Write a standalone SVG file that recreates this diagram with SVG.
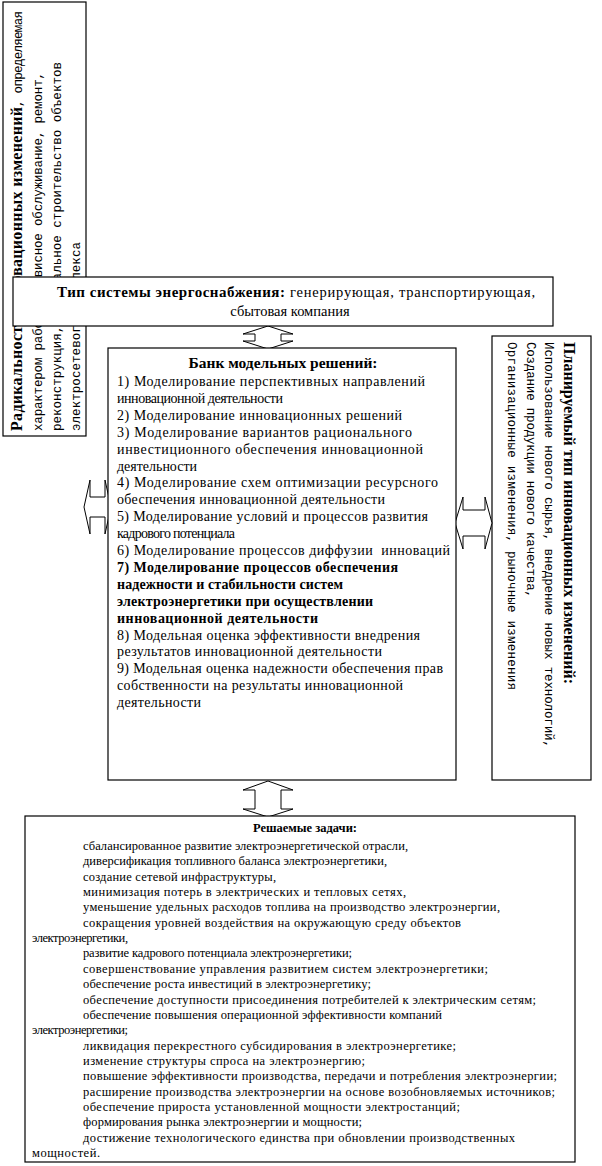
<svg xmlns="http://www.w3.org/2000/svg" width="602" height="1166" viewBox="0 0 602 1166">
<style>
.box{fill:#fff;stroke:#000;stroke-width:1.2}
.arr{fill:#fff;stroke:#000;stroke-width:1}
.b{font-family:"Liberation Serif","Times New Roman",serif;font-weight:bold;fill:#000}
.r{font-family:"Liberation Serif","Times New Roman",serif;fill:#000}
.m{font-family:"Liberation Mono","Courier New",monospace;fill:#000}
.c{font-size:14px}
.s{font-size:12.5px}
</style>
<rect x="0" y="0" width="602" height="1166" fill="#fff"/>
<g id="radical">
<rect class="box" x="3" y="2" width="83" height="434"/>
<text class="b" font-size="16" transform="translate(22,431) rotate(-90)" textLength="324">Радикальность инновационных изменений</text>
<text class="m" font-size="12.5" transform="translate(22,107) rotate(-90)" textLength="96">, определяемая</text>
<text class="m" font-size="12.5" transform="translate(42,431) rotate(-90)" textLength="359">характером работ: сервисное обслуживание, ремонт,</text>
<text class="m" font-size="12.5" transform="translate(61,431) rotate(-90)" textLength="369">реконструкция, капитальное строительство объектов</text>
<text class="m" font-size="12.5" transform="translate(80,431) rotate(-90)" textLength="189">электросетевого комплекса</text>
</g>
<g id="planned">
<rect class="box" x="492" y="336" width="99" height="444"/>
<text class="b" font-size="16" transform="translate(564,342) rotate(90)" textLength="342">Планируемый тип инновационных изменений:</text>
<text class="m" font-size="12.5" transform="translate(545,342) rotate(90)" textLength="406">Использование нового сырья, внедрение новых технологий,</text>
<text class="m" font-size="12.5" transform="translate(527,342) rotate(90)" textLength="256">Создание продукции нового качества,</text>
<text class="m" font-size="12.5" transform="translate(508,342) rotate(90)" textLength="348">Организационные изменения, рыночные изменения</text>
</g>
<g id="connectors">
<polygon class="arr" points="268,326 293,334 281,334 281,341 293,341 268,349 243,341 255,341 255,334 243,334"/>
<polygon class="arr" points="268,781 293,790 281,790 281,809 293,809 268,817 243,809 255,809 255,790 243,790"/>
<polygon class="arr" points="84,507 90,480 90,497 105,497 105,480 111,507 105,534 105,517 90,517 90,534"/>
<polygon class="arr" points="455,523 463,497 463,510 485,510 485,497 492,523 485,549 485,536 463,536 463,549"/>
</g>
<g id="type">
<rect class="box" x="13" y="277" width="540" height="49"/>
<text class="b" font-size="15" x="57" y="297" textLength="228">Тип системы энергоснабжения:</text>
<text class="r" font-size="14.5" x="290" y="297" textLength="245">генерирующая, транспортирующая,</text>
<text class="r" font-size="14.5" x="290" y="316" text-anchor="middle">сбытовая компания</text>
</g>
<g id="bank">
<rect class="box" x="108" y="348" width="348" height="432"/>
<text class="b" font-size="15.5" x="283" y="368" text-anchor="middle">Банк модельных решений:</text>
<text class="r c" x="117" y="386" textLength="308">1) Моделирование перспективных направлений</text>
<text class="r c" x="117" y="402.9" textLength="166">инновационной деятельности</text>
<text class="r c" x="117" y="419.8" textLength="285">2) Моделирование инновационных решений</text>
<text class="r c" x="117" y="436.7" textLength="295">3) Моделирование вариантов рационального</text>
<text class="r c" x="117" y="453.6" textLength="306">инвестиционного обеспечения инновационной</text>
<text class="r c" x="117" y="470.5" textLength="80">деятельности</text>
<text class="r c" x="117" y="487.4" textLength="321">4) Моделирование схем оптимизации ресурсного</text>
<text class="r c" x="117" y="504.3" textLength="268">обеспечения инновационной деятельности</text>
<text class="r c" x="117" y="521.2" textLength="311">5) Моделирование условий и процессов развития</text>
<text class="r c" x="117" y="538.1" textLength="118">кадрового потенциала</text>
<text class="r c" x="117" y="555" textLength="333" xml:space="preserve">6) Моделирование процессов диффузии  инноваций</text>
<text class="b c" x="117" y="571.9" textLength="281">7) Моделирование процессов обеспечения</text>
<text class="b c" x="117" y="588.8" textLength="226">надежности и стабильности систем</text>
<text class="b c" x="117" y="605.7" textLength="256">электроэнергетики при осуществлении</text>
<text class="b c" x="117" y="622.6" textLength="201">инновационной деятельности</text>
<text class="r c" x="117" y="639.5" textLength="303">8) Модельная оценка эффективности внедрения</text>
<text class="r c" x="117" y="656.4" textLength="265">результатов инновационной деятельности</text>
<text class="r c" x="117" y="673.3" textLength="326">9) Модельная оценка надежности обеспечения прав</text>
<text class="r c" x="117" y="690.2" textLength="286">собственности на результаты инновационной</text>
<text class="r c" x="117" y="707.1" textLength="84">деятельности</text>
</g>
<g id="tasks">
<rect class="box" x="25" y="816" width="550" height="346"/>
<text class="b s" x="305" y="832" text-anchor="middle">Решаемые задачи:</text>
<text class="r s" x="83" y="850" textLength="325">сбалансированное развитие электроэнергетической отрасли,</text>
<text class="r s" x="83" y="865.35" textLength="304">диверсификация топливного баланса электроэнергетики,</text>
<text class="r s" x="83" y="880.7" textLength="193">создание сетевой инфраструктуры,</text>
<text class="r s" x="83" y="896.05" textLength="323">минимизация потерь в электрических и тепловых сетях,</text>
<text class="r s" x="83" y="911.4" textLength="417">уменьшение удельных расходов топлива на производство электроэнергии,</text>
<text class="r s" x="83" y="926.75" textLength="378">сокращения уровней воздействия на окружающую среду объектов</text>
<text class="r s" x="32" y="942.1" textLength="96">электроэнергетики,</text>
<text class="r s" x="83" y="957.45" textLength="269">развитие кадрового потенциала электроэнергетики;</text>
<text class="r s" x="83" y="972.8" textLength="405">совершенствование управления развитием систем электроэнергетики;</text>
<text class="r s" x="83" y="988.15" textLength="288">обеспечение роста инвестиций в электроэнергетику;</text>
<text class="r s" x="83" y="1003.5" textLength="453">обеспечение доступности присоединения потребителей к электрическим сетям;</text>
<text class="r s" x="83" y="1018.85" textLength="359">обеспечение повышения операционной эффективности компаний</text>
<text class="r s" x="32" y="1034.2" textLength="96">электроэнергетики;</text>
<text class="r s" x="83" y="1049.55" textLength="373">ликвидация перекрестного субсидирования в электроэнергетике;</text>
<text class="r s" x="83" y="1064.9" textLength="282">изменение структуры спроса на электроэнергию;</text>
<text class="r s" x="83" y="1080.25" textLength="474">повышение эффективности производства, передачи и потребления электроэнергии;</text>
<text class="r s" x="83" y="1095.6" textLength="472">расширение производства электроэнергии на основе возобновляемых источников;</text>
<text class="r s" x="83" y="1110.95" textLength="377">обеспечение прироста установленной мощности электростанций;</text>
<text class="r s" x="83" y="1126.3" textLength="279">формирования рынка электроэнергии и мощности;</text>
<text class="r s" x="83" y="1141.65" textLength="432">достижение технологического единства при обновлении производственных</text>
<text class="r s" x="32" y="1157" textLength="68">мощностей.</text>
</g>
</svg>
